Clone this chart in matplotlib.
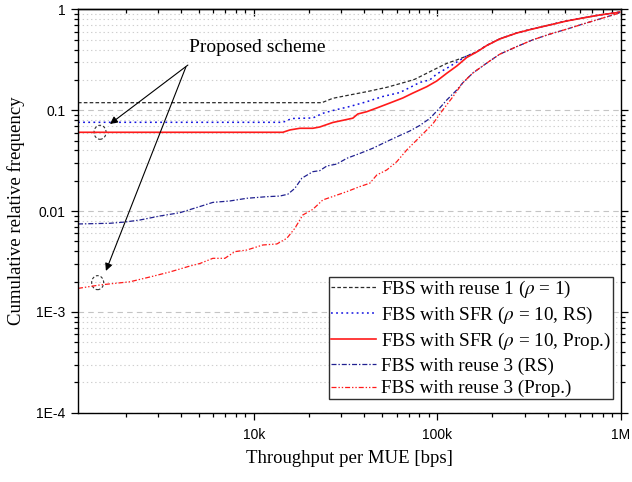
import matplotlib
matplotlib.use('Agg')
import matplotlib.pyplot as plt
from matplotlib.ticker import FixedLocator, LogLocator, NullFormatter
from matplotlib.patches import Ellipse
from matplotlib.transforms import ScaledTranslation

plt.rcParams['mathtext.fontset'] = 'stix'
plt.rcParams['lines.scale_dashes'] = False

SERIF = 'Liberation Serif'
SANS = 'Liberation Sans'

# ---- CDF of throughput per MUE (x in bps, y = cumulative relative frequency) ----
reuse1_x = [1099, 23480, 26950, 33370, 41290, 53070, 68210, 75410, 87670, 99380,
            112700, 127800, 144800, 164200, 186200, 219100, 271200, 331500,
            410400, 507800, 620900, 768400, 951000, 987600]
reuse1_y = [0.119, 0.119, 0.1315, 0.142, 0.153, 0.169, 0.192, 0.203, 0.233, 0.261,
            0.292, 0.316, 0.345, 0.381, 0.441, 0.512, 0.586, 0.643,
            0.704, 0.771, 0.825, 0.884, 0.931, 0.945]

sfr_rs_x = [1099, 14390, 16110, 17810, 20970, 23770, 26950, 33370, 41290, 50470,
            62460, 70820, 80290, 91000, 99380, 112700, 127800, 144800, 164200,
            186200, 219100, 271200, 331500, 410400, 507800, 620900, 768400,
            951000, 987600]
sfr_rs_y = [0.0760, 0.0760, 0.0829, 0.0833, 0.0839, 0.0934, 0.0995, 0.1091, 0.1217,
            0.137, 0.150, 0.168, 0.189, 0.200, 0.229, 0.261, 0.301, 0.346, 0.380,
            0.440, 0.511, 0.585, 0.642, 0.703, 0.770, 0.824, 0.883, 0.930, 0.944]

sfr_prop_x = [1099, 14390, 15710, 17810, 20970, 22890, 26950, 34640, 36880, 41290,
              46810, 55100, 64860, 73540, 87670, 99380, 112700, 127800, 144800,
              164200, 186200, 219100, 271200, 331500, 410400, 507800, 620900,
              768400, 951000, 987600]
sfr_prop_y = [0.0605, 0.0605, 0.0638, 0.0663, 0.0663, 0.0683, 0.0757, 0.0835, 0.0919,
              0.0969, 0.1054, 0.118, 0.1324, 0.148, 0.1714, 0.1953, 0.233, 0.275,
              0.334, 0.379, 0.439, 0.510, 0.584, 0.641, 0.702, 0.769, 0.823,
              0.882, 0.930, 0.944]

reuse3_rs_x = [1099, 1642, 1982, 2392, 3074, 3952, 5078, 5977, 7401, 9161, 11770,
               13860, 15320, 16730, 18270, 20970, 22890, 24990, 28340, 32130, 37820,
               44510, 53070, 62460, 70820, 80290, 91000, 103200, 112700, 127800,
               137700, 156200, 186200, 219100, 271200, 331500, 410400, 507800,
               620900, 768400, 951000, 987600]
reuse3_rs_y = [0.00745, 0.00757, 0.00779, 0.00816, 0.00894, 0.00964, 0.0111, 0.0122,
               0.0126, 0.0134, 0.0139, 0.0141, 0.0147, 0.0168, 0.0212, 0.0246, 0.0252,
               0.0280, 0.0293, 0.0334, 0.0373, 0.0420, 0.0490, 0.0562, 0.0623, 0.0707,
               0.0829, 0.1054, 0.1265, 0.159, 0.187, 0.234, 0.294, 0.360, 0.428,
               0.500, 0.569, 0.638, 0.716, 0.805, 0.905, 0.930]

reuse3_prop_x = [1099, 1448, 2110, 2712, 3485, 4480, 5078, 5977, 6950, 7879, 9161,
                 11190, 13350, 15130, 16730, 18490, 20970, 23770, 28340, 32130,
                 37820, 42880, 46810, 53070, 60160, 68210, 80290, 94520, 107200,
                 121500, 137700, 156200, 186200, 219100, 271200, 331500, 410400,
                 507800, 620900, 768400, 951000, 987600]
reuse3_prop_y = [0.00171, 0.00185, 0.00199, 0.00222, 0.00249, 0.00285, 0.00302,
                 0.00340, 0.00340, 0.00396, 0.00411, 0.00461, 0.00472, 0.00537,
                 0.00675, 0.00915, 0.0104, 0.0129, 0.0144, 0.0156, 0.0175, 0.0189,
                 0.0228, 0.0256, 0.0309, 0.0404, 0.0543, 0.0731, 0.1007, 0.1355,
                 0.187, 0.234, 0.294, 0.360, 0.428, 0.500, 0.569, 0.638, 0.716,
                 0.805, 0.905, 0.930]

labels = [r'FBS with reuse 1 ($\rho$ = 1)',
          r'FBS with SFR ($\rho$ = 10, RS)',
          r'FBS with SFR ($\rho$ = 10, Prop.)',
          'FBS with reuse 3 (RS)',
          'FBS with reuse 3 (Prop.)']

x_ticks = [1e4, 1e5, 1e6]
x_ticklabels = ['10k', '100k', '1M']
y_ticks = [1e-4, 1e-3, 1e-2, 1e-1, 1]
y_ticklabels = ['1E-4', '1E-3', '0.01', '0.1', '1']

# ---- figure ----
fig = plt.figure(figsize=(6.32, 4.82), dpi=100)
ax = fig.add_axes([0.1234, 0.1438, 0.8592, 0.8365])
ax.set_xscale('log')
ax.set_yscale('log')

ax.plot(reuse1_x, reuse1_y, color='#2b2b2b', lw=0.9, ls=(0, (2.6, 1.6)),
        label=labels[0])
ax.plot(sfr_rs_x, sfr_rs_y, color='#1010e0', lw=1.1, ls=(0, (1.3, 2.4)),
        label=labels[1])
ax.plot(sfr_prop_x, sfr_prop_y, color='#ff1a1a', lw=1.2, ls='-',
        label=labels[2])
ax.plot(reuse3_rs_x, reuse3_rs_y, color='#202090', lw=0.9,
        ls=(0, (3.6, 1.4, 1.0, 1.4)), label=labels[3])
ax.plot(reuse3_prop_x, reuse3_prop_y, color='#ff1a1a', lw=0.9,
        ls=(0, (3.6, 1.4, 1.0, 1.4, 1.0, 1.4)), label=labels[4])

ax.set_xlim(1099, 1.005e6)
ax.set_ylim(1e-4, 1)

# ticks
ax.xaxis.set_major_locator(FixedLocator(x_ticks))
ax.set_xticklabels(x_ticklabels)
ax.xaxis.set_minor_locator(LogLocator(base=10, subs=range(2, 10), numticks=20))
ax.xaxis.set_minor_formatter(NullFormatter())
ax.yaxis.set_major_locator(FixedLocator(y_ticks))
ax.set_yticklabels(y_ticklabels)
ax.yaxis.set_minor_locator(LogLocator(base=10, subs=range(2, 10), numticks=20))
ax.yaxis.set_minor_formatter(NullFormatter())

ax.tick_params(axis='both', which='major', direction='out', length=5, width=0.9,
               labelsize=10, pad=4)
ax.tick_params(axis='both', which='minor', direction='out', length=3, width=0.9)
ax.tick_params(axis='y', which='both', right=True)
ax.tick_params(axis='x', which='major', pad=6)
for lab in ax.get_xticklabels() + ax.get_yticklabels():
    lab.set_fontfamily(SANS)

top = ax.secondary_xaxis('top')
top.xaxis.set_major_locator(FixedLocator(x_ticks))
top.xaxis.set_minor_locator(LogLocator(base=10, subs=range(2, 10), numticks=20))
top.xaxis.set_major_formatter(NullFormatter())
top.xaxis.set_minor_formatter(NullFormatter())
top.tick_params(which='major', direction='in', length=5, width=0.9)
top.tick_params(which='minor', direction='in', length=3, width=0.9)

for sp in ax.spines.values():
    sp.set_linewidth(1.0)
top.spines['top'].set_linewidth(1.0)

# horizontal grid only
ax.set_axisbelow(True)
ax.yaxis.grid(True, which='major', color='#c4c4c4', lw=0.8, ls=(0, (4, 3)))
ax.yaxis.grid(True, which='minor', color='#cfcfcf', lw=0.8, ls=(0, (1, 2)))
ax.xaxis.grid(False, which='both')

ax.set_xlabel('Throughput per MUE [bps]', fontfamily=SERIF, fontsize=13.5,
              labelpad=6)
ax.set_ylabel('Cumulative relative frequency', fontfamily=SERIF, fontsize=13.5,
              labelpad=8)

leg = ax.legend(loc='lower right', bbox_to_anchor=(0.985, 0.034),
                borderaxespad=0, prop={'family': SERIF, 'size': 13.8},
                handlelength=2.35, handletextpad=0.3, borderpad=0.08,
                labelspacing=0.27, fancybox=False, framealpha=1,
                edgecolor='#303030')
leg.get_frame().set_linewidth(1.0)

# ---- "Proposed scheme" annotation ----
ax.text(10380, 0.415, 'Proposed scheme', fontfamily=SERIF, fontsize=14,
        ha='center', va='center')
arrow_kw = dict(arrowstyle='-|>', color='black', lw=0.8, mutation_scale=11,
                shrinkA=0, shrinkB=0)
ax.annotate('', xy=(1642, 0.0731), xytext=(4368, 0.281), arrowprops=arrow_kw)
ax.annotate('', xy=(1561, 0.00255), xytext=(4260, 0.269), arrowprops=arrow_kw)

for cx, cy in [(1450, 0.0605), (1407, 0.00195)]:
    trans = fig.dpi_scale_trans + ScaledTranslation(cx, cy, ax.transData)
    ax.add_patch(Ellipse((0, 0), 0.12, 0.14, transform=trans, fill=False,
                         ec='#303030', lw=0.8, ls=(0, (2, 1.5)), clip_on=False))

fig.savefig('out.png', dpi=100)
